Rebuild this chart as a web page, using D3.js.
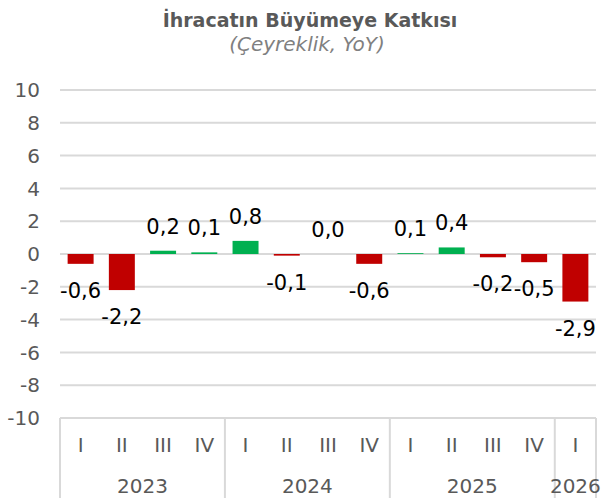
<!DOCTYPE html>
<html>
<head>
<meta charset="utf-8">
<script src="https://cdn.jsdelivr.net/npm/d3@7"></script>
<style>
  body { margin: 0; background: #fff; }
  text { font-family: "DejaVu Sans", sans-serif; }
</style>
</head>
<body>
<script>
// data
var quarters = ["I", "II", "III", "IV", "I", "II", "III", "IV", "I", "II", "III", "IV", "I"];
var years = ["2023", "2024", "2025", "2026"];
var quartersPerYear = [4, 4, 4, 1];
var values = [-0.6, -2.2, 0.2, 0.1, 0.8, -0.1, 0.0, -0.6, 0.05, 0.4, -0.2, -0.5, -2.9];
var yTicks = [-10, -8, -6, -4, -2, 0, 2, 4, 6, 8, 10];

var w = 604, h = 498;
var margin = {top: 90, bottom: 80, left: 60, right: 8};

var tr = d3.formatLocale({decimal: ",", thousands: ".", grouping: [3], currency: ["", ""], minus: "-"});
var fmt = tr.format(".1f");

var svg = d3.select("body").append("svg")
    .attr("width", w)
    .attr("height", h);

var xScale = d3.scaleBand()
    .domain(d3.range(values.length))
    .range([margin.left, w - margin.right])
    .paddingInner(0.37)
    .paddingOuter(0.185);

var yScale = d3.scaleLinear()
    .domain([-10, 10])
    .range([h - margin.bottom, margin.top]);

// title
svg.append("text")
  .attr("x", 310).attr("y", 27)
  .attr("text-anchor", "middle")
  .attr("font-size", 19).attr("font-weight", "bold")
  .attr("fill", "#595959")
  .text("İhracatın Büyümeye Katkısı");

svg.append("text")
  .attr("x", 307).attr("y", 51)
  .attr("text-anchor", "middle")
  .attr("font-size", 20).attr("font-style", "italic")
  .attr("fill", "#808080")
  .text("(Çeyreklik, YoY)");

// gridlines
svg.append("g").selectAll("line").data(yTicks).enter().append("line")
  .attr("x1", margin.left).attr("x2", w - margin.right)
  .attr("y1", function(d) { return yScale(d); })
  .attr("y2", function(d) { return yScale(d); })
  .attr("stroke", "#d9d9d9").attr("stroke-width", 2);

// y labels
svg.append("g").selectAll("text").data(yTicks).enter().append("text")
  .attr("x", 40)
  .attr("y", function(d) { return yScale(d); })
  .attr("dy", "0.36em")
  .attr("text-anchor", "end")
  .attr("font-size", 20)
  .attr("fill", "#595959")
  .text(function(d) { return tr.format("d")(d); });

// bars
svg.append("g").selectAll("rect").data(values).enter().append("rect")
  .attr("x", function(d, i) { return xScale(i); })
  .attr("width", xScale.bandwidth())
  .attr("y", function(d) { return yScale(Math.max(0, d)); })
  .attr("height", function(d) { return Math.abs(yScale(d) - yScale(0)); })
  .attr("fill", function(d) { return d >= 0 ? "#00b050" : "#c00000"; });

// value labels
svg.append("g").selectAll("text").data(values).enter().append("text")
  .attr("x", function(d, i) { return xScale(i) + xScale.bandwidth() / 2; })
  .attr("y", function(d) { return d >= 0 ? yScale(d) - 17 : yScale(d) + 34; })
  .attr("text-anchor", "middle")
  .attr("font-size", 21)
  .attr("fill", "#000")
  .text(function(d) { return fmt(d); });

// category axis
var step = xScale.step();
var axisTop = yScale(-10);
var bounds = [0];
quartersPerYear.forEach(function(n) { bounds.push(bounds[bounds.length - 1] + n); });

svg.append("g").selectAll("line").data(bounds).enter().append("line")
  .attr("x1", function(d) { return margin.left + d * step; })
  .attr("x2", function(d) { return margin.left + d * step; })
  .attr("y1", axisTop).attr("y2", h)
  .attr("stroke", "#d9d9d9").attr("stroke-width", 2);

svg.append("g").selectAll("text").data(quarters).enter().append("text")
  .attr("x", function(d, i) { return xScale(i) + xScale.bandwidth() / 2; })
  .attr("y", 452)
  .attr("text-anchor", "middle")
  .attr("font-size", 20)
  .attr("fill", "#595959")
  .text(function(d) { return d; });

svg.append("g").selectAll("text").data(years).enter().append("text")
  .attr("x", function(d, i) {
    var a = margin.left + bounds[i] * step, b = margin.left + bounds[i + 1] * step;
    return (a + b) / 2;
  })
  .attr("y", 493)
  .attr("text-anchor", "middle")
  .attr("font-size", 20)
  .attr("fill", "#595959")
  .text(function(d) { return d; });
</script>
</body>
</html>
